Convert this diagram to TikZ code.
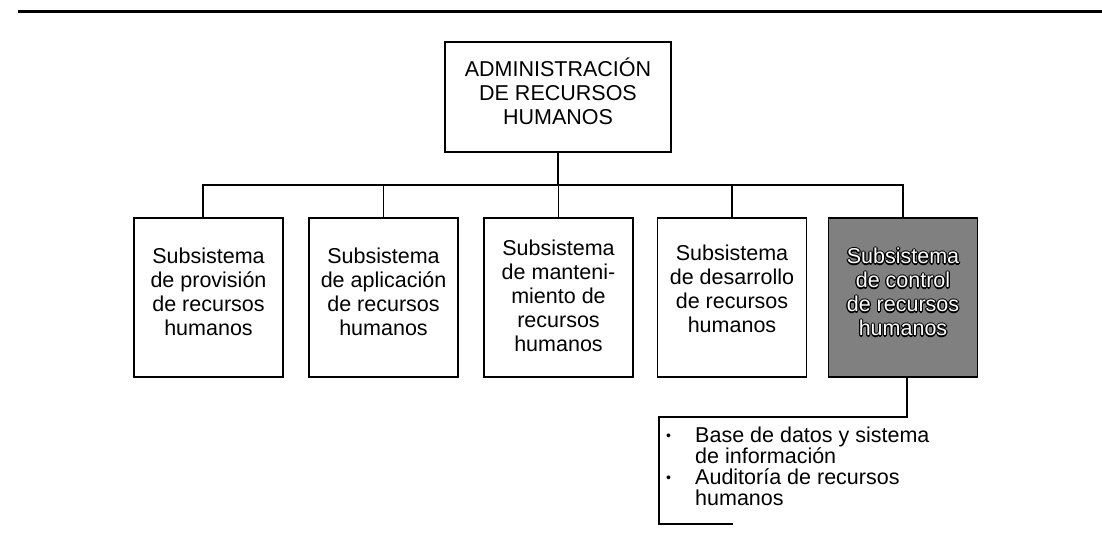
\documentclass[tikz,border=0pt]{standalone}
\usepackage{fontspec}
\setmainfont{Liberation Sans}
\usetikzlibrary{calc}
\tikzset{
  box/.style={draw=black, line width=1.8pt, minimum width=149pt, minimum height=159pt,
    inner sep=0pt, align=center, font=\fontsize{21.5}{24}\selectfont, text depth=12pt},
  topbox/.style={draw=black, line width=1.8pt, minimum width=226pt, minimum height=110pt,
    inner sep=0pt, align=center, font=\fontsize{21.5}{24}\selectfont, text depth=12pt},
  darkbox/.style={box, fill=black!50, text=white},
  conn/.style={line width=1.8pt, line cap=rect},
  listtext/.style={inner sep=0pt, align=left, font=\fontsize{21.5}{21}\selectfont, anchor=west}
}
\newcommand{\halocopy}[3]{\rlap{\kern#1\raisebox{#2}{\color{black}#3}}}
\newcommand{\outl}[1]{\leavevmode
  \halocopy{1.2pt}{0pt}{#1}\halocopy{-1.2pt}{0pt}{#1}%
  \halocopy{0pt}{1.2pt}{#1}\halocopy{0pt}{-1.2pt}{#1}%
  \halocopy{0.85pt}{0.85pt}{#1}\halocopy{-0.85pt}{0.85pt}{#1}%
  \halocopy{0.85pt}{-0.85pt}{#1}\halocopy{-0.85pt}{-0.85pt}{#1}%
  {\color{white}#1}}
\begin{document}
\begin{tikzpicture}[x=1pt,y=-1pt]
\useasboundingbox (0,0) rectangle (1102,542);
\coordinate (rl) at (18,11);
\coordinate (rr) at (1102,11);
\draw[line width=3pt] (rl) -- (rr);

\node[topbox] (top) at (558,97) {ADMINISTRACIÓN\\DE RECURSOS\\HUMANOS};

\node[box] (b1) at (208.5,297.5) {Subsistema\\de provisión\\de recursos\\humanos};
\node[box] (b2) at (383.5,297.5) {Subsistema\\de aplicación\\de recursos\\humanos};
\node[box, text depth=4pt] (b3) at (558.5,297.5) {Subsistema\\de manteni-\\miento de\\recursos\\humanos};
\node[box, text depth=18pt] (b4) at (732,297.5) {Subsistema\\de desarrollo\\de recursos\\humanos};
\node[darkbox] (b5) at (903,297.5) {\outl{Subsistema}\\\outl{de control}\\\outl{de recursos}\\\outl{humanos}};

\coordinate (bl) at (203,185);
\coordinate (br) at (903,185);
\draw[conn] (top.south) -- (top.south |- bl);
\draw[conn] (bl) -- (br);
\draw[conn] (bl) -- (bl |- b1.north);
\draw[conn] (b2.north |- bl) -- (b2.north);
\draw[conn] (b3.north |- bl) -- (b3.north);
\draw[conn] (b4.north |- bl) -- (b4.north);
\draw[conn] (br) -- (b5.north);

\coordinate (c1) at (907,417);
\coordinate (c2) at (659,417);
\coordinate (c3) at (659,524);
\coordinate (c4) at (733,524);
\draw[conn, line cap=butt] (b5.south -| c1) -- (c1) -- (c2) -- (c3) -- (c4);

\node[listtext] (list) at (666,466) {\makebox[29pt][l]{\fontsize{14}{14}\selectfont\raisebox{2pt}{•}}Base de datos y sistema\\
\hspace*{29pt}de información\\
\makebox[29pt][l]{\fontsize{14}{14}\selectfont\raisebox{2pt}{•}}Auditoría de recursos\\
\hspace*{29pt}humanos};
\end{tikzpicture}
\end{document}
